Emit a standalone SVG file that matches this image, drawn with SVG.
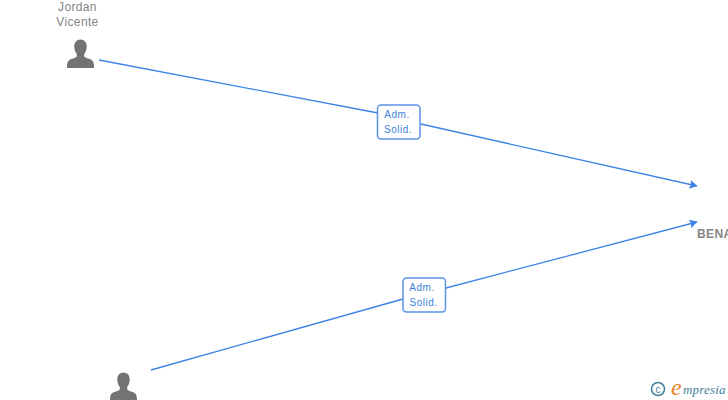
<svg xmlns="http://www.w3.org/2000/svg" width="728" height="400" viewBox="0 0 728 400">
<style>
.name{font:12px "Liberation Sans",Arial,sans-serif;fill:#858585;text-anchor:middle;letter-spacing:.35px}
.co{font:bold 12px "Liberation Sans",Arial,sans-serif;fill:#858585;letter-spacing:.4px}
.lab{font:10px "Liberation Sans",Arial,sans-serif;fill:#3d7fe0;text-anchor:middle;letter-spacing:.5px}
.box{fill:#fff;stroke:#5b93e6;stroke-width:1.5}
.ln{fill:none;stroke:#3d84e6;stroke-width:1.3;marker-end:url(#a)}
.p{fill:#737373}
</style>
<defs>
<marker id="a" markerUnits="userSpaceOnUse" markerWidth="9" markerHeight="10" refX="7.5" refY="5" orient="auto"><path d="M0 .5L8 5L0 9.500L1.500 5Z" fill="#3d84e6"/></marker>
<path id="u" d="M0-28.500c4 0 6.200 3 6.200 7 0 3-1 6-2.500 7.500v2.500c1 1.500 6 2.200 8 4 1.500 1.400 1.800 3.500 1.800 7.500H-13.500c0-4 .3-6.100 1.800-7.500 2-1.800 7-2.500 8-4v-2.500C-5.200-15.500-6.200-18.500-6.200-21.500c0-4 2.200-7 6.200-7Z"/>
</defs>
<g id="connectors">
<path class="ln" d="M99 60L378 113M421 124L697 186"/>
<path class="ln" d="M151 370L403 299M446 288L697 222"/>
</g>
<g id="node-jordan"><text class="name" x="77.500" y="11">Jordan</text><text class="name" x="77.500" y="26">Vicente</text><use href="#u" class="p" x="80.500" y="68"/></g>
<g id="node-person2"><use href="#u" class="p" x="123.500" y="401"/></g>
<g id="node-bena"><text class="co" x="697" y="238">BENA</text></g>
<g id="label-1"><rect class="box" x="377.500" y="105" width="42.500" height="34" rx="3.500"/><text class="lab" x="397" y="118">Adm.</text><text class="lab" x="398" y="133">Solid.</text></g>
<g id="label-2"><rect class="box" x="403" y="278" width="42.500" height="34" rx="3.500"/><text class="lab" x="422" y="291">Adm.</text><text class="lab" x="423.500" y="306">Solid.</text></g>
<g id="logo"><circle cx="658" cy="389" r="6.500" fill="none" stroke="#3f7f9a" stroke-width="1.500"/><text x="658" y="392.500" font-family="'Liberation Sans',sans-serif" font-size="10" fill="#3f7f9a" text-anchor="middle">c</text><text x="671" y="395" font-family="'Liberation Serif',serif" font-style="italic" font-size="24" fill="#e8862a">e</text><text x="683" y="394" font-family="'Liberation Serif',serif" font-style="italic" font-size="13" fill="#3f7f9a" letter-spacing=".2">mpresia</text></g>
</svg>
